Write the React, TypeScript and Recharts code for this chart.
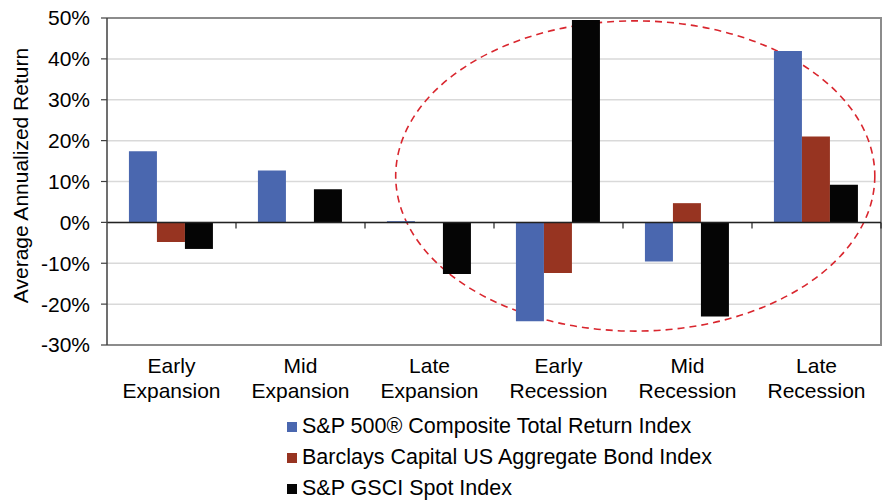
import React from 'react';
import {
    BarChart, Bar, XAxis, YAxis, CartesianGrid, Legend,
    ReferenceLine, ReferenceArea
} from 'recharts';

// business-cycle phases and average annualized returns (%)
const phases = ['Early Expansion', 'Mid Expansion', 'Late Expansion', 'Early Recession', 'Mid Recession', 'Late Recession'];
const sp500 = [17.4, 12.7, 0.3, -24.2, -9.6, 41.9];
const bonds = [-4.8, 0, 0, -12.4, 4.7, 21.0];
const gsci = [-6.5, 8.1, -12.6, 49.5, -23.0, 9.2];
const yTicks = [-30, -20, -10, 0, 10, 20, 30, 40, 50];

const seriesNames = {
    sp500: 'S&P 500® Composite Total Return Index',
    bonds: 'Barclays Capital US Aggregate Bond Index',
    gsci: 'S&P GSCI Spot Index',
};
const colors = { sp500: '#4A67AF', bonds: '#973421', gsci: '#050505' };

const data = phases.map((phase, i) => ({
    phase,
    sp500: sp500[i],
    bonds: bonds[i],
    gsci: gsci[i],
}));

const FONT = '"Liberation Sans", Arial, sans-serif';
const FONT_SIZE = 21;

// dashed oval highlighting the recession phases (fractions of plot width)
const OVAL_LEFT = 0.373;
const OVAL_RIGHT = 0.992;

const PhaseTick = (props: any) => {
    const { x, y, payload } = props;
    const [first, second] = String(payload.value).split(' ');
    return (
        <text x={x} y={y} textAnchor="middle" fill="#000" fontSize={FONT_SIZE} fontFamily={FONT}>
            <tspan x={x} dy={28}>{first}</tspan>
            <tspan x={x} dy={25}>{second}</tspan>
        </text>
    );
};

const YLabel = (props: any) => {
    const { viewBox } = props;
    const cy = viewBox.y + viewBox.height / 2 - 6;
    return (
        <text x={28} y={cy} transform={`rotate(-90, 28, ${cy})`} textAnchor="middle"
            fill="#000" fontSize={FONT_SIZE} fontFamily={FONT}>
            Average Annualized Return
        </text>
    );
};

// zero line with small downward ticks at category boundaries
const ZeroLine = (props: any) => {
    const { x1, y1, x2 } = props;
    const step = (x2 - x1) / phases.length;
    return (
        <g>
            <line x1={x1} y1={y1} x2={x2} y2={y1} stroke="#222" strokeWidth={1.5} />
            {phases.map((_, i) => (
                <line key={i} x1={x1 + (i + 1) * step} y1={y1} x2={x1 + (i + 1) * step} y2={y1 + 6}
                    stroke="#222" strokeWidth={1.2} />
            ))}
        </g>
    );
};

const PlotFrame = (props: any) => {
    const { x, y, width, height } = props;
    return (
        <path d={`M${x},${y} H${x + width} V${y + height} H${x}`} fill="none" stroke="#8c8c8c" strokeWidth={2} />
    );
};

const Oval = (props: any) => {
    const { x, y, width, height } = props;
    const cx = x + width * (OVAL_LEFT + OVAL_RIGHT) / 2;
    const rx = width * (OVAL_RIGHT - OVAL_LEFT) / 2;
    return (
        <ellipse cx={cx} cy={y + height / 2} rx={rx} ry={height / 2}
            fill="none" stroke="#D9262E" strokeWidth={1.6} strokeDasharray="7 5" />
    );
};

const LegendList = () => (
    <div style={{ fontFamily: FONT, fontSize: 21.5, color: '#000' }}>
        {(['sp500', 'bonds', 'gsci'] as const).map((key) => (
            <div key={key} style={{ display: 'flex', alignItems: 'center', height: 31, whiteSpace: 'nowrap' }}>
                <span style={{ width: 10, height: 10, background: colors[key], marginRight: 5, display: 'inline-block' }} />
                {seriesNames[key]}
            </div>
        ))}
    </div>
);

export default function App() {
    return (
        <div style={{ position: 'absolute', left: 0, top: 0, width: 890, height: 500, background: '#fff', fontFamily: FONT }}>
            <BarChart width={890} height={500} data={data}
                margin={{ top: 18, right: 9, left: 0, bottom: 95 }}
                barCategoryGap="17%" barGap={0}>
                <CartesianGrid vertical={false} stroke="#d9d9d9" strokeWidth={1.5} />
                <ReferenceArea y1={-30} y2={50} shape={<PlotFrame />} ifOverflow="visible" />
                <XAxis dataKey="phase" height={60} axisLine={false} tickLine={false}
                    tickSize={0} tickMargin={0} tick={<PhaseTick />} interval={0} />
                <YAxis width={107} domain={[-30, 50]} ticks={yTicks} interval={0}
                    tickFormatter={(v) => `${v}%`} tickSize={6} tickMargin={11}
                    tick={{ fill: '#000', fontSize: FONT_SIZE, fontFamily: FONT }}
                    axisLine={{ stroke: '#404040', strokeWidth: 1.5 }}
                    tickLine={{ stroke: '#404040', strokeWidth: 1.2 }}
                    label={<YLabel />} />
                <Bar dataKey="sp500" name={seriesNames.sp500} fill={colors.sp500} isAnimationActive={false} />
                <Bar dataKey="bonds" name={seriesNames.bonds} fill={colors.bonds} isAnimationActive={false} />
                <Bar dataKey="gsci" name={seriesNames.gsci} fill={colors.gsci} isAnimationActive={false} />
                <ReferenceLine y={0} shape={<ZeroLine />} />
                <ReferenceArea y1={-26.6} y2={49.3} shape={<Oval />} ifOverflow="visible" />
                <Legend layout="vertical" align="center" verticalAlign="middle"
                    content={<LegendList />}
                    wrapperStyle={{ left: 287, top: 411, width: 'auto', height: 'auto' }} />
            </BarChart>
        </div>
    );
}
